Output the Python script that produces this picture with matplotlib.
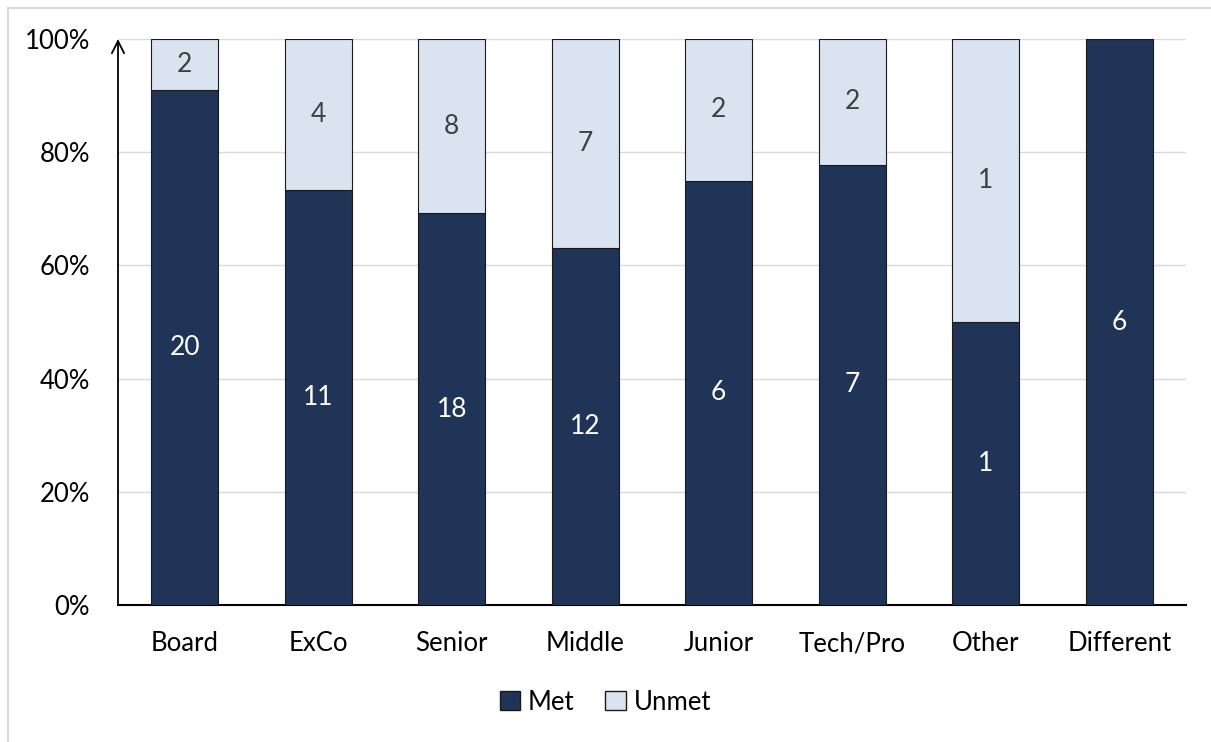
import matplotlib.pyplot as plt
from matplotlib.patches import Rectangle, Patch

categories = ["Board", "ExCo", "Senior", "Middle", "Junior", "Tech/Pro", "Other", "Different"]
met = [20, 11, 18, 12, 6, 7, 1, 6]
unmet = [2, 4, 8, 7, 2, 2, 1, 0]

dark = "#203458"
light = "#DAE3F0"

plt.rcParams['font.family'] = ['Lato', 'DejaVu Sans']

fig = plt.figure(figsize=(12.11, 7.42), dpi=100)
ax = fig.add_axes([118 / 1211, 1 - 605 / 742, 1068 / 1211, 566 / 742])

totals = [m + u for m, u in zip(met, unmet)]
met_pct = [m / t for m, t in zip(met, totals)]
unmet_pct = [u / t for u, t in zip(unmet, totals)]
x = list(range(len(categories)))

ax.bar(x, met_pct, width=0.5, color=dark, edgecolor="#1a1a1a", linewidth=0.8, zorder=3, label="Met")
ax.bar(x, unmet_pct, width=0.5, bottom=met_pct, color=light, edgecolor="#1a1a1a",
       linewidth=0.8, zorder=3, label="Unmet")

for i in x:
    ax.text(i, met_pct[i] / 2, str(met[i]), ha="center", va="center", color="white", fontsize=19, zorder=4)
    if unmet[i] > 0:
        ax.text(i, met_pct[i] + unmet_pct[i] / 2, str(unmet[i]), ha="center", va="center",
                color="#404040", fontsize=19, zorder=4)

ax.set_xlim(-0.5, len(categories) - 0.5)
ax.set_ylim(0, 1)
ax.set_yticks([0, 0.2, 0.4, 0.6, 0.8, 1.0])
ax.set_yticklabels(["0%", "20%", "40%", "60%", "80%", "100%"])
ax.set_xticks(x)
ax.set_xticklabels(categories)
ax.tick_params(axis="both", length=0, labelsize=18.5, colors="black")
ax.tick_params(axis="x", pad=19)
ax.tick_params(axis="y", pad=20)
ax.yaxis.grid(True, color="#d9d9d9", linewidth=1, zorder=0)

for s in ["top", "right", "left"]:
    ax.spines[s].set_visible(False)
ax.spines["bottom"].set_linewidth(1.5)
ax.spines["bottom"].set_color("black")

# y axis with arrow
ax.annotate("", xy=(-0.5, 1.0), xytext=(-0.5, 0), xycoords="data",
            arrowprops=dict(arrowstyle="->", color="black", lw=1.3, mutation_scale=22,
                            shrinkA=0, shrinkB=0), annotation_clip=False, zorder=5)

handles = [Patch(facecolor=dark, edgecolor="#1a1a1a", label="Met"),
           Patch(facecolor=light, edgecolor="#1a1a1a", label="Unmet")]
fig.legend(handles=handles, loc="center", bbox_to_anchor=(0.5, 1 - 702 / 742), ncol=2,
           frameon=False, fontsize=18.5, handlelength=0.8, handleheight=0.8,
           handletextpad=0.3, columnspacing=1.2)

fig.patches.append(Rectangle((8 / 1211, -0.1), 1.2, 1 - 8 / 742 + 0.1, transform=fig.transFigure,
                             fill=False, edgecolor="#d9d9d9", linewidth=1.5))

fig.savefig("out.png", dpi=100)
